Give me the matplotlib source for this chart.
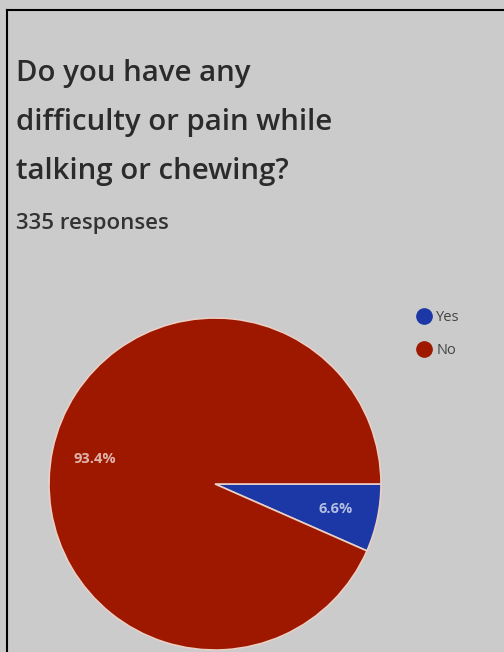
import matplotlib

matplotlib.use("Agg")
import matplotlib.pyplot as plt
from matplotlib.lines import Line2D

plt.rcParams["font.family"] = ["Open Sans", "DejaVu Sans"]

# survey answers
labels = ["Yes", "No"]
shares = [6.6, 93.4]
colors = ["#1b38a6", "#9e1800"]
title_lines = ["Do you have any", "difficulty or pain while", "talking or chewing?"]
n_responses = 335

W, H = 504, 652
bg = "#cbcbcb"
fg = plt.figure(figsize=(W / 100, H / 100), dpi=100, facecolor=bg)

# title, one line per text so the spacing is easy to set
for i, line in enumerate(title_lines):
    fg.text(
        16 / W,
        1 - (81 + 49 * i) / H,
        line,
        fontsize=21.2,
        fontweight="semibold",
        color="#2b2b2b",
        ha="left",
        va="baseline",
    )
fg.text(
    16 / W,
    1 - 229 / H,
    "%d responses" % n_responses,
    fontsize=16,
    fontweight="semibold",
    color="#333333",
    ha="left",
    va="baseline",
)

# pie: centre (215, 484) px, radius 166 px
cx, cy, r = 215, 484, 166
ax = fg.add_axes([(cx - r) / W, 1 - (cy + r) / H, 2 * r / W, 2 * r / H])
ax.set_facecolor(bg)
wedges, texts, autotexts = ax.pie(
    shares,
    colors=colors,
    startangle=0,
    counterclock=False,
    autopct="%.1f%%",
    pctdistance=0.74,
    wedgeprops=dict(edgecolor="#e9cfc6", linewidth=1.2),
    textprops=dict(color="white", alpha=0.68, fontsize=10.5, fontweight="bold"),
)
ax.set_xlim(-1, 1)
ax.set_ylim(-1, 1)
ax.set_aspect("equal")
ax.axis("off")

handles = [
    Line2D([], [], marker="o", linestyle="", markersize=11, color=c) for c in colors
]
fg.legend(
    handles,
    labels,
    loc="upper left",
    bbox_to_anchor=(400 / W, 1 - 297 / H),
    frameon=False,
    fontsize=10.5,
    labelcolor="#444444",
    handletextpad=0.1,
    labelspacing=1.2,
    handlelength=1.5,
)

# frame lines along the top and left edges
fg.add_artist(Line2D([7 / W, 1], [1 - 10 / H, 1 - 10 / H], color="black", lw=1.5))
fg.add_artist(Line2D([7 / W, 7 / W], [0, 1 - 10 / H], color="black", lw=1.5))

fg.savefig("out.png", dpi=100, facecolor=bg)
plt.close(fg)
